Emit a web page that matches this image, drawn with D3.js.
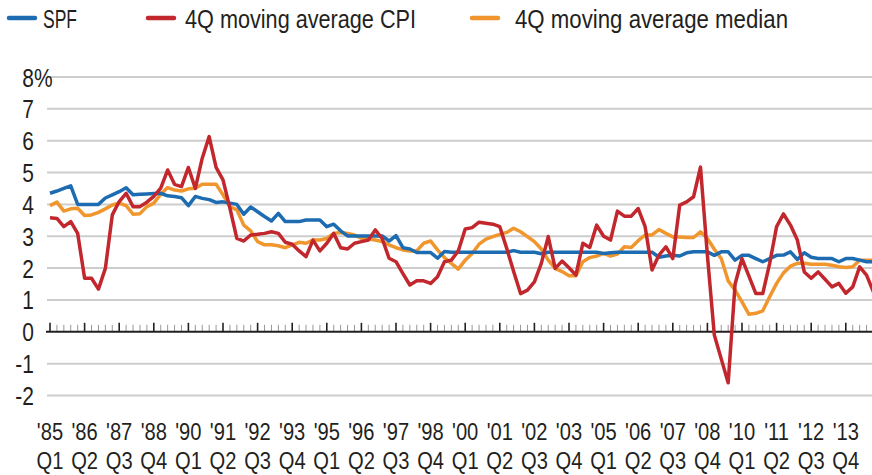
<!DOCTYPE html>
<html>
<head>
<meta charset="utf-8" />
<title>SPF vs CPI</title>
<script src="https://cdnjs.cloudflare.com/ajax/libs/d3/7.8.5/d3.min.js"></script>
<style>
html, body {
    margin: 0px;
    padding: 0px;
    background: #fff;
}
svg text {
    font-family: "Liberation Sans", Arial, sans-serif;
    fill: #231f20;
}
</style>
</head>
<body>
<div id="chart"></div>
<script>
// quarters 1985Q1 .. 2014Q4
var quarters = [];
for (var yr = 1985; yr <= 2014; yr++) {
    for (var q = 1; q <= 4; q++) quarters.push(yr + "Q" + q);
}

var spf = [
    4.35, 4.42, 4.50, 4.58, 4.00, 4.00, 4.00, 4.00, 4.20, 4.30,
    4.40, 4.52, 4.30, 4.32, 4.33, 4.34, 4.35, 4.27, 4.25, 4.21,
    3.96, 4.25, 4.19, 4.15, 4.06, 4.08, 4.04, 4.00, 3.69, 3.92,
    3.77, 3.62, 3.48, 3.72, 3.46, 3.46, 3.46, 3.51, 3.51, 3.51,
    3.30, 3.38, 3.17, 3.01, 3.01, 3.01, 3.01, 3.01, 3.01, 2.85,
    3.02, 2.64, 2.60, 2.49, 2.49, 2.49, 2.31, 2.52, 2.50, 2.50,
    2.50, 2.50, 2.50, 2.50, 2.50, 2.50, 2.50, 2.55, 2.50, 2.50,
    2.50, 2.45, 2.50, 2.50, 2.50, 2.50, 2.50, 2.50, 2.50, 2.50,
    2.46, 2.48, 2.50, 2.50, 2.50, 2.50, 2.50, 2.50, 2.34, 2.38,
    2.40, 2.38, 2.48, 2.51, 2.51, 2.51, 2.40, 2.51, 2.51, 2.25,
    2.40, 2.40, 2.30, 2.20, 2.30, 2.40, 2.41, 2.51, 2.27, 2.48,
    2.34, 2.30, 2.30, 2.30, 2.20, 2.30, 2.30, 2.25, 2.20, 2.20
];

var cpi = [
    3.58, 3.56, 3.30, 3.46, 3.09, 1.68, 1.68, 1.34, 1.99, 3.67,
    4.09, 4.35, 3.93, 3.93, 4.07, 4.25, 4.51, 5.08, 4.63, 4.56,
    5.16, 4.50, 5.45, 6.13, 5.16, 4.77, 3.88, 2.93, 2.85, 3.04,
    3.06, 3.09, 3.14, 3.09, 2.81, 2.75, 2.54, 2.36, 2.88, 2.54,
    2.78, 3.09, 2.64, 2.60, 2.78, 2.83, 2.88, 3.20, 2.93, 2.31,
    2.20, 1.83, 1.47, 1.60, 1.60, 1.52, 1.73, 2.20, 2.25, 2.54,
    3.23, 3.27, 3.44, 3.41, 3.38, 3.30, 2.62, 1.89, 1.20, 1.31,
    1.57, 2.15, 2.99, 1.99, 2.22, 2.01, 1.78, 2.78, 2.65, 3.35,
    3.00, 2.88, 3.79, 3.63, 3.63, 3.87, 3.30, 1.94, 2.41, 2.67,
    2.30, 3.98, 4.08, 4.24, 5.17, 2.40, -0.10, -0.85, -1.60, 1.50,
    2.30, 1.75, 1.20, 1.20, 2.15, 3.30, 3.70, 3.35, 2.88, 1.88,
    1.68, 1.88, 1.65, 1.41, 1.52, 1.21, 1.41, 2.04, 1.78, 1.25
];

var median = [
    3.96, 4.07, 3.79, 3.86, 3.88, 3.65, 3.67, 3.75, 3.86, 3.98,
    4.04, 3.96, 3.69, 3.71, 3.93, 4.04, 4.32, 4.53, 4.45, 4.42,
    4.49, 4.51, 4.63, 4.63, 4.63, 4.30, 3.93, 3.83, 3.35, 3.17,
    2.83, 2.73, 2.73, 2.70, 2.64, 2.73, 2.81, 2.78, 2.88, 2.88,
    2.93, 3.09, 3.12, 3.09, 3.04, 2.93, 2.91, 2.88, 2.83, 2.73,
    2.64, 2.57, 2.54, 2.54, 2.78, 2.85, 2.57, 2.33, 2.15, 1.97,
    2.25, 2.46, 2.75, 2.91, 2.99, 3.06, 3.12, 3.25, 3.14, 2.99,
    2.83, 2.60, 2.25, 1.99, 1.89, 1.76, 1.76, 2.20, 2.33, 2.38,
    2.46, 2.38, 2.44, 2.67, 2.65, 2.86, 3.04, 3.04, 3.21, 3.09,
    2.98, 2.98, 2.96, 2.96, 3.14, 2.93, 2.59, 2.30, 1.60, 1.31,
    0.94, 0.55, 0.58, 0.66, 1.10, 1.52, 1.85, 2.06, 2.15, 2.15,
    2.12, 2.12, 2.12, 2.09, 2.04, 2.02, 2.04, 2.25, 2.25, 2.25
];

var seriesNames = ["SPF", "4Q moving average CPI", "4Q moving average median"];
var seriesColors = ["#1d6cb1", "#c1272d", "#f0962c"];

var yTicks = [-2, -1, 0, 1, 2, 3, 4, 5, 6, 7, 8];
var labelYears = ["'85", "'86", "'87", "'88", "'90", "'91", "'92", "'93", "'95", "'96", "'97", "'98",
                  "'00", "'01", "'02", "'03", "'05", "'06", "'07", "'08", "'10", "'11", "'12", "'13"];
var labelQuarters = ["Q1", "Q2", "Q3", "Q4", "Q1", "Q2", "Q3", "Q4", "Q1", "Q2", "Q3", "Q4",
                     "Q1", "Q2", "Q3", "Q4", "Q1", "Q2", "Q3", "Q4", "Q1", "Q2", "Q3", "Q4"];

var width = 872, height = 475;
var squeeze = 0.84;   // condensed look

var svg = d3.select("#chart").append("svg")
    .attr("width", width)
    .attr("height", height);

var x = d3.scalePoint()
    .domain(quarters)
    .range([50, 50 + 6.92 * (quarters.length - 1)]);

var y = d3.scaleLinear()
    .domain([-2, 8])
    .range([395.5, 77]);

function label(g, px, py, str, anchor, size) {
    return g.append("text")
        .attr("transform", "translate(" + px + "," + py + ") scale(" + squeeze + ",1)")
        .attr("text-anchor", anchor)
        .style("font-size", size + "px")
        .text(str);
}

// gridlines
svg.append("g")
    .selectAll("line")
    .data(yTicks.filter(function(d){ return d !== 0; }))
    .enter().append("line")
    .attr("x1", 47).attr("x2", width)
    .attr("y1", function(d){ return y(d); })
    .attr("y2", function(d){ return y(d); })
    .attr("stroke", "#cdcdcd")
    .attr("stroke-width", 2);

// y labels
var yl = svg.append("g");
yTicks.forEach(function(d){
    label(yl, 34, y(d) + 9.5, d, "end", 25);
});
label(yl, 34, y(8) + 9.5, "%", "start", 25);

// zero axis with quarter ticks
var axis = svg.append("g");
axis.selectAll("line.tick")
    .data(quarters)
    .enter().append("line")
    .attr("class", "tick")
    .attr("x1", function(d){ return x(d); })
    .attr("x2", function(d){ return x(d); })
    .attr("y1", y(0))
    .attr("y2", function(d, i){ return i % 5 === 0 ? y(0) - 9 : y(0) - 7; })
    .attr("stroke", function(d, i){ return i % 5 === 0 ? "#222" : "#999"; })
    .attr("stroke-width", function(d, i){ return i % 5 === 0 ? 1.6 : 1; });
axis.append("line")
    .attr("x1", 46).attr("x2", width)
    .attr("y1", y(0)).attr("y2", y(0))
    .attr("stroke", "#231f20")
    .attr("stroke-width", 2);

// x labels: year on top, quarter below
var xl = svg.append("g");
labelYears.forEach(function(d, i){
    label(xl, x(quarters[i * 5]), 440, d, "middle", 24);
    label(xl, x(quarters[i * 5]), 469, labelQuarters[i], "middle", 24);
});

// lines
var line = d3.line()
    .x(function(d, i){ return x(quarters[i]); })
    .y(function(d){ return y(d); });

var allSeries = [spf, cpi, median];
var drawOrder = [2, 0, 1];
drawOrder.forEach(function(k){
    svg.append("path")
        .datum(allSeries[k])
        .attr("fill", "none")
        .attr("stroke", seriesColors[k])
        .attr("stroke-width", 3.5)
        .attr("stroke-linejoin", "round")
        .attr("d", line);
});

// legend
var legendX = [9, 148, 472];
var legendTx = [43, 185, 515];
var legendW = [34, 231, 273];
var leg = svg.append("g");
seriesNames.forEach(function(name, k){
    leg.append("line")
        .attr("x1", legendX[k]).attr("x2", legendX[k] + 26)
        .attr("y1", 18).attr("y2", 18)
        .attr("stroke", seriesColors[k])
        .attr("stroke-width", 4.5)
        .attr("stroke-linecap", "round");
    leg.append("text")
        .attr("x", legendTx[k])
        .attr("y", 28)
        .attr("textLength", legendW[k])
        .attr("lengthAdjust", "spacingAndGlyphs")
        .style("font-size", "26px")
        .text(name);
});
</script>
</body>
</html>
